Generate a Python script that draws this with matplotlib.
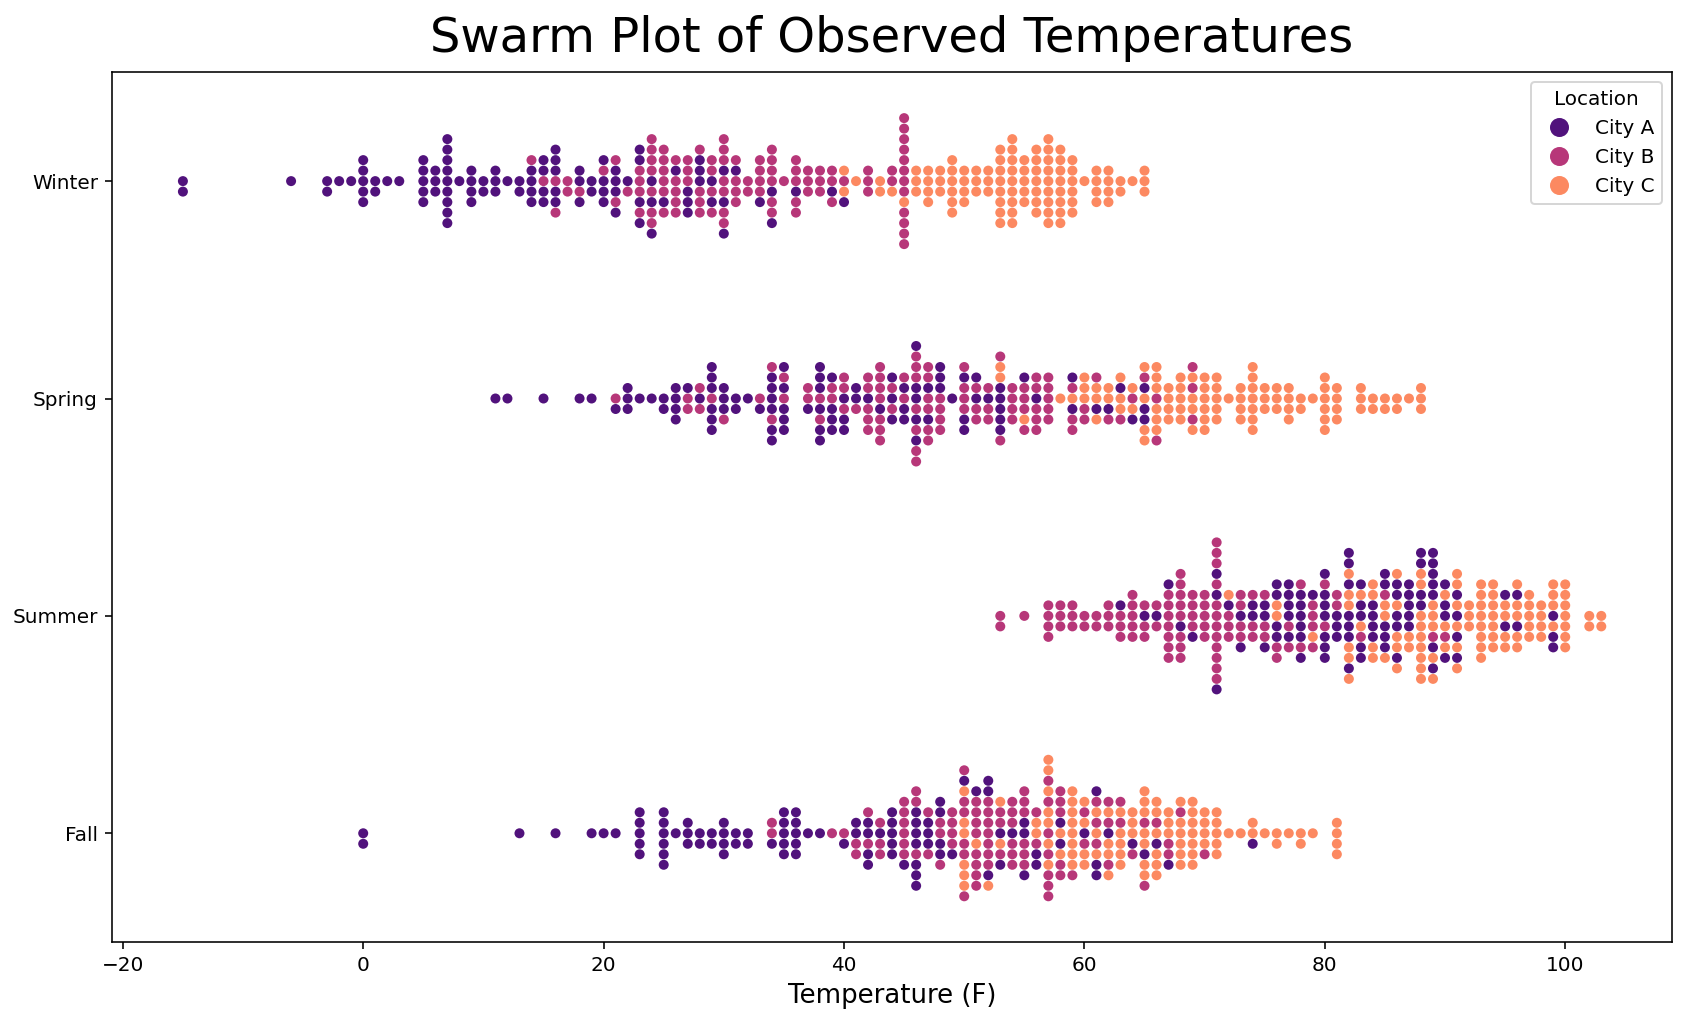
import numpy as np
import pandas as pd
import matplotlib
matplotlib.use("Agg")
import matplotlib.pyplot as plt
from matplotlib.lines import Line2D
import seaborn as sns

winter_a_vals = [-15, -6, -3, -2, -1, 0, 1, 2, 3, 5, 6, 7, 8, 9, 10, 11, 12, 13, 14, 15, 16, 18, 19, 20,
                 21, 22, 23, 24, 25, 26, 27, 28, 29, 30, 31, 33, 34, 36, 39, 40]
winter_a_cnts = [2, 1, 2, 1, 1, 5, 2, 1, 1, 5, 3, 9, 1, 4, 2, 3, 1, 2, 4, 4, 5, 3, 2, 4,
                 4, 1, 4, 3, 1, 1, 3, 3, 2, 3, 1, 1, 2, 1, 1, 1]
winter_b_vals = [14, 15, 16, 17, 18, 20, 21, 22, 23, 24, 25, 26, 27, 28, 29, 30, 31, 32, 33, 34, 35, 36,
                 37, 38, 39, 40, 42, 44, 45]
winter_b_cnts = [1, 1, 2, 2, 1, 1, 2, 1, 4, 7, 6, 5, 3, 4, 4, 7, 4, 2, 4, 6, 1, 5,
                 3, 3, 3, 1, 3, 2, 12]
winter_c_vals = [40, 41, 43, 44, 45, 46, 47, 48, 49, 50, 51, 52, 53, 54, 55, 56, 57, 58, 59, 60, 61, 62,
                 63, 64, 65]
winter_c_cnts = [2, 1, 2, 1, 1, 3, 4, 3, 6, 4, 3, 3, 8, 9, 5, 7, 9, 8, 6, 1, 4, 4,
                 2, 1, 3]

spring_a_vals = [11, 12, 15, 18, 19, 21, 22, 23, 24, 25, 26, 27, 28, 29, 30, 31, 32, 33, 34, 35, 37, 38,
                 39, 40, 41, 42, 43, 44, 45, 46, 47, 48, 49, 50, 51, 52, 53, 55, 56, 59, 61, 62, 63, 64, 65]
spring_a_cnts = [1, 1, 1, 1, 1, 1, 3, 1, 1, 2, 4, 1, 1, 6, 3, 2, 1, 1, 6, 5, 1, 6,
                 4, 3, 2, 1, 1, 3, 3, 5, 2, 3, 1, 3, 2, 1, 5, 1, 1, 2, 1, 1, 1, 1, 3]
spring_b_vals = [21, 27, 28, 29, 30, 33, 34, 35, 37, 38, 39, 40, 41, 42, 43, 44, 45, 46, 47, 48, 50, 51,
                 52, 53, 54, 55, 56, 57, 59, 60, 61, 62, 63, 64, 65, 66, 69]
spring_b_cnts = [1, 2, 2, 1, 1, 1, 2, 2, 2, 2, 2, 3, 1, 5, 7, 2, 2, 7, 6, 4, 4, 3,
                 3, 2, 4, 4, 5, 5, 3, 2, 1, 1, 1, 1, 1, 2, 3]
spring_c_vals = [53, 55, 58, 59, 60, 61, 62, 63, 64, 65, 66, 67, 68, 69, 70, 71, 72, 73, 74, 75, 76, 77,
                 78, 79, 80, 81, 83, 84, 85, 86, 87, 88]
spring_c_cnts = [2, 1, 1, 1, 3, 3, 2, 3, 2, 4, 6, 4, 5, 4, 6, 5, 1, 4, 7, 3, 3, 4,
                 2, 1, 6, 4, 3, 2, 2, 2, 1, 3]

summer_a_vals = [63, 65, 66, 67, 68, 69, 71, 72, 73, 74, 75, 76, 77, 78, 79, 80, 81, 82, 83, 84, 85, 86,
                 87, 88, 89, 90, 91, 95, 96, 99]
summer_a_cnts = [1, 1, 1, 1, 1, 1, 3, 1, 2, 2, 3, 4, 5, 6, 1, 7, 3, 7, 5, 4, 5, 5,
                 5, 4, 7, 4, 4, 2, 2, 3]
summer_b_vals = [53, 55, 57, 58, 59, 60, 61, 62, 63, 64, 65, 66, 67, 68, 69, 70, 71, 72, 73, 74, 75, 76,
                 77, 78, 79, 80, 81, 83, 85, 89, 90]
summer_b_cnts = [2, 1, 4, 3, 3, 2, 2, 3, 3, 5, 3, 2, 7, 8, 4, 5, 12, 3, 4, 3, 3, 2,
                 2, 2, 4, 2, 2, 1, 1, 1, 1]
summer_c_vals = [72, 76, 79, 82, 83, 84, 85, 86, 87, 88, 89, 90, 91, 92, 93, 94, 95, 96, 97, 98, 99, 100,
                 102, 103]
summer_c_cnts = [1, 2, 1, 6, 2, 4, 3, 5, 2, 9, 5, 3, 6, 3, 8, 7, 4, 5, 5, 4, 4, 7,
                 2, 2]

fall_a_vals = [0, 13, 16, 19, 20, 21, 23, 25, 26, 27, 28, 29, 30, 31, 32, 34, 35, 36, 37, 38, 40, 41,
               42, 43, 44, 45, 46, 47, 48, 49, 50, 51, 52, 53, 54, 55, 56, 58, 60, 61, 62, 64, 65, 66, 67, 74]
fall_a_cnts = [2, 1, 1, 1, 1, 1, 5, 6, 1, 3, 2, 2, 4, 2, 2, 1, 5, 5, 1, 1, 1, 2,
               4, 1, 5, 1, 7, 3, 4, 1, 1, 1, 3, 2, 1, 3, 2, 2, 1, 3, 1, 1, 1, 1, 1, 1]
fall_b_vals = [34, 39, 40, 41, 42, 43, 45, 46, 47, 48, 49, 50, 51, 52, 53, 54, 55, 56, 57, 58, 59, 60,
               61, 62, 63, 64, 65, 66, 67, 68, 70]
fall_b_cnts = [2, 1, 1, 2, 2, 3, 6, 3, 2, 3, 4, 6, 8, 7, 3, 6, 6, 2, 7, 5, 1, 2,
               3, 3, 2, 1, 2, 1, 2, 1, 1]
fall_c_vals = [50, 51, 52, 53, 56, 57, 58, 59, 60, 61, 62, 63, 64, 65, 66, 67, 68, 69, 70, 71, 72, 73,
               74, 75, 76, 77, 78, 79, 81]
fall_c_cnts = [6, 1, 1, 2, 2, 7, 2, 8, 4, 3, 4, 5, 3, 7, 6, 3, 6, 7, 4, 5, 1, 1,
               2, 1, 2, 1, 2, 1, 4]

seasons = ["Winter", "Spring", "Summer", "Fall"]
cities = ["City A", "City B", "City C"]

table = {
    ("Winter", "City A"): (winter_a_vals, winter_a_cnts),
    ("Winter", "City B"): (winter_b_vals, winter_b_cnts),
    ("Winter", "City C"): (winter_c_vals, winter_c_cnts),
    ("Spring", "City A"): (spring_a_vals, spring_a_cnts),
    ("Spring", "City B"): (spring_b_vals, spring_b_cnts),
    ("Spring", "City C"): (spring_c_vals, spring_c_cnts),
    ("Summer", "City A"): (summer_a_vals, summer_a_cnts),
    ("Summer", "City B"): (summer_b_vals, summer_b_cnts),
    ("Summer", "City C"): (summer_c_vals, summer_c_cnts),
    ("Fall", "City A"): (fall_a_vals, fall_a_cnts),
    ("Fall", "City B"): (fall_b_vals, fall_b_cnts),
    ("Fall", "City C"): (fall_c_vals, fall_c_cnts),
}

rows = []
for season in seasons:
    for city in cities:
        vals, cnts = table[(season, city)]
        for t in np.repeat(vals, cnts):
            rows.append((season, city, float(t)))
df = pd.DataFrame(rows, columns=["Season", "Location", "Temperature"])
# mix the cities so that equal values interleave like in the original
df = df.sample(frac=1.0, random_state=3).reset_index(drop=True)

colors = sns.color_palette("magma", len(cities))

fig, ax = plt.subplots(figsize=(1684 / 144, 1020 / 144), dpi=144)
# reversed order on a non-inverted axis: Winter stays on top and the swarms grow upward
sns.swarmplot(data=df, x="Temperature", y="Season", hue="Location",
              order=seasons[::-1], hue_order=cities, palette=colors, size=5, ax=ax)
ax.set_ylim(-0.5, len(seasons) - 0.5)

ax.set_title("Swarm Plot of Observed Temperatures", fontsize=24, pad=10)
ax.set_xlabel("Temperature (F)", fontsize=13)
ax.set_ylabel("")

# legend with bigger dots, like the original
handles = [Line2D([], [], marker="o", linestyle="", markersize=8.5, color=c) for c in colors]
ax.legend(handles, cities, title="Location", loc="upper right")

plt.subplots_adjust(left=0.0665, right=0.993, top=0.929, bottom=0.0765)
plt.savefig("out.png", dpi=144)
